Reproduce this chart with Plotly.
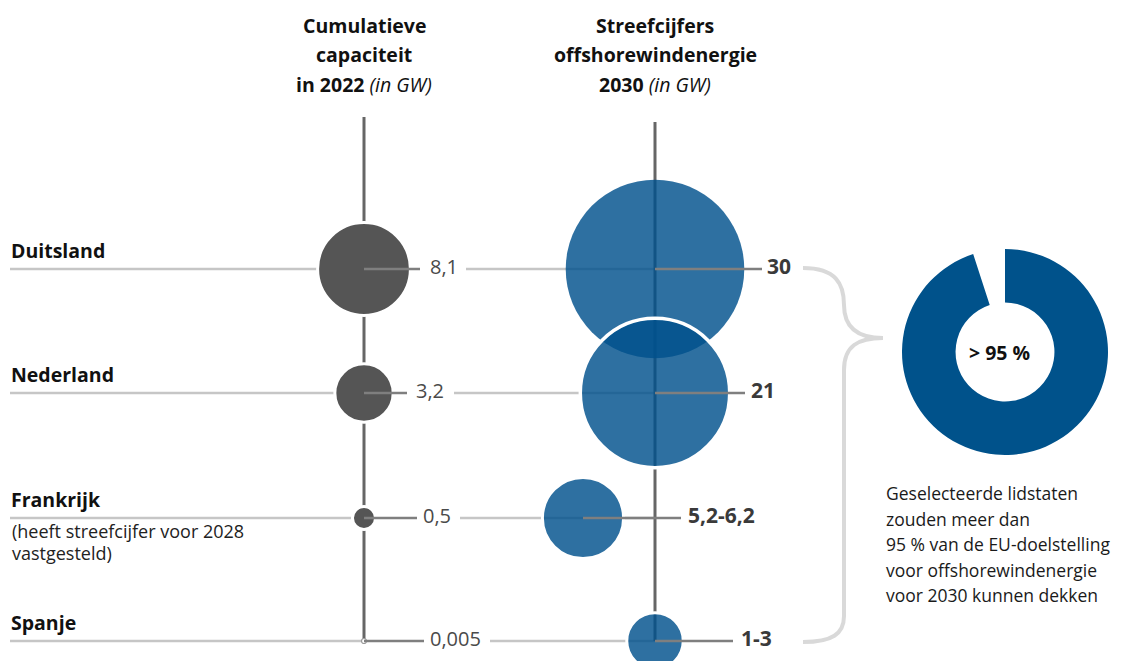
import plotly.graph_objects as go
import math

# ---------------- data ----------------
countries = ["Duitsland", "Nederland", "Frankrijk", "Spanje"]
country_notes = ["", "", "(heeft streefcijfer voor 2028<br>vastgesteld)", ""]
capacity_2022 = [8.1, 3.2, 0.5, 0.005]
capacity_labels = ["8,1", "3,2", "0,5", "0,005"]
target_low = [30, 21, 5.2, 1]
target_high = [30, 21, 6.2, 3]
target_labels = ["30", "21", "5,2-6,2", "1-3"]
donut_values = [95, 5]
donut_label = "> 95 %"
header_left = ["<b>Cumulatieve</b>", "<b>capaciteit</b>", "<b>in 2022</b> <i>(in GW)</i>"]
header_right = ["<b>Streefcijfers</b>", "<b>offshorewindenergie</b>", "<b>2030</b> <i>(in GW)</i>"]
note_lines = ["Geselecteerde lidstaten", "zouden meer dan", "95 % van de EU-doelstelling",
              "voor offshorewindenergie", "voor 2030 kunnen dekken"]

# ---------------- layout constants (pixels) ----------------
W, H = 1132, 661
FONT = "Open Sans"
COL_CAP = 364
COL_TGT = 655
ROW_Y = [269, 393, 518, 641]
TGT_CX = [655, 655, 583, 655]
PX_PER_SQRT = 32.6
CAP_LBL_X = [430, 416, 423, 430]
CAP_SEG_END = [420, 407, 417, 424]
CAP_LINE_START = [466, 454, 460, 490]
TGT_LBL_X = [767, 751, 688, 741]
TGT_SEG_START = [655, 655, 583, 655]
TGT_SEG_END = [762, 745, 681, 733]

LIGHT = "#c6c6c6"
DARK = "#7f7f7f"
VLINE = "#666666"
GREYDOT = "#555555"
BLUE_RGBA = "rgba(0,80,140,0.82)"
DONUT = "#00528b"

fig = go.Figure()


def seg(xs, ys, color, width=2.5):
    fig.add_trace(go.Scatter(x=xs, y=ys, mode="lines", line=dict(color=color, width=width),
                             hoverinfo="skip", showlegend=False))


# light grey row lines (behind everything)
for i in range(len(countries)):
    y = ROW_Y[i]
    seg([10, COL_CAP], [y, y], LIGHT)
    seg([CAP_LINE_START[i], COL_TGT], [y, y], LIGHT)

# vertical column lines
seg([COL_CAP, COL_CAP], [117, ROW_Y[-1]], VLINE, 3)
seg([COL_TGT, COL_TGT], [122, ROW_Y[-1]], VLINE, 3)

# target circles (translucent)
fig.add_trace(go.Scatter(
    x=TGT_CX, y=ROW_Y, mode="markers",
    marker=dict(size=[PX_PER_SQRT * math.sqrt(v) for v in target_high],
                color=BLUE_RGBA, opacity=1,
                line=dict(color="white", width=[0, 3.5, 3, 3])),
    hoverinfo="skip", showlegend=False))

# capacity circles
fig.add_trace(go.Scatter(
    x=[COL_CAP] * len(countries), y=ROW_Y, mode="markers",
    marker=dict(size=[max(PX_PER_SQRT * math.sqrt(v), 5) for v in capacity_2022],
                color=[GREYDOT, GREYDOT, GREYDOT, "white"], opacity=1,
                line=dict(color=["white", "white", "white", "#9a9a9a"], width=[3, 3, 3, 1.2])),
    hoverinfo="skip", showlegend=False))

# dark leader segments
for i in range(len(countries)):
    y = ROW_Y[i]
    seg([COL_CAP, CAP_SEG_END[i]], [y, y], DARK)
    seg([TGT_SEG_START[i], TGT_SEG_END[i]], [y, y], DARK)

# value labels
fig.add_trace(go.Scatter(
    x=CAP_LBL_X, y=ROW_Y, mode="text", text=capacity_labels, textposition="middle right",
    textfont=dict(family=FONT, size=20, color="#4a4a4a"), hoverinfo="skip", showlegend=False))
fig.add_trace(go.Scatter(
    x=TGT_LBL_X, y=ROW_Y, mode="text", text=["<b>%s</b>" % t for t in target_labels],
    textposition="middle right",
    textfont=dict(family=FONT, size=21, color="#3a3a3a"), hoverinfo="skip", showlegend=False))

# country labels
fig.add_trace(go.Scatter(
    x=[11] * len(countries), y=[y - 16 for y in ROW_Y], mode="text",
    text=["<b>%s</b>" % c for c in countries], textposition="middle right",
    textfont=dict(family=FONT, size=19.5, color="#111111"), hoverinfo="skip", showlegend=False))

annotations = []
# country notes
for i, n in enumerate(country_notes):
    if n:
        for j, part in enumerate(n.split("<br>")):
            annotations.append(dict(x=10, y=ROW_Y[i] + 13 + j * 22, text=part, xanchor="left",
                                    yanchor="middle", showarrow=False,
                                    font=dict(family=FONT, size=18, color="#222222")))

# headers
for j, t in enumerate(header_left):
    annotations.append(dict(x=COL_CAP, y=25 + j * 29.5, text=t, showarrow=False, xanchor="center",
                            yanchor="middle", font=dict(family=FONT, size=19.5, color="#111111")))
for j, t in enumerate(header_right):
    annotations.append(dict(x=COL_TGT, y=25 + j * 29.5, text=t, showarrow=False, xanchor="center",
                            yanchor="middle", font=dict(family=FONT, size=19.5, color="#111111")))

# right note
for j, t in enumerate(note_lines):
    annotations.append(dict(x=884, y=493 + j * 25.5, text=t, showarrow=False, xanchor="left",
                            yanchor="middle", font=dict(family=FONT, size=17.5, color="#1a1a1a")))

# donut center
annotations.append(dict(x=999, y=352, text="<b>%s</b>" % donut_label, showarrow=False,
                        xanchor="center", yanchor="middle",
                        font=dict(family=FONT, size=19.5, color="#111111")))

for a in annotations:
    a["xref"] = "x"
    a["yref"] = "y"

# donut
fig.add_trace(go.Pie(
    values=donut_values, sort=False, direction="clockwise", rotation=0, hole=0.48,
    marker=dict(colors=[DONUT, "rgba(0,0,0,0)"], line=dict(width=0)),
    textinfo="none", hoverinfo="skip", showlegend=False,
    domain=dict(x=[902 / W, 1108 / W], y=[1 - 455 / H, 1 - 249 / H])))

# brace
brace = ("M 803,268 C 836,268 844,284 844,305 C 844,328 858,338 883,338 "
         "C 858,338 844,346 844,370 L 844,616 C 844,634 832,642 803,642")

fig.update_layout(
    width=W, height=H, margin=dict(l=0, r=0, t=0, b=0),
    paper_bgcolor="white", plot_bgcolor="white",
    xaxis=dict(range=[0, W], visible=False, fixedrange=True),
    yaxis=dict(range=[H, 0], visible=False, fixedrange=True),
    annotations=annotations,
    shapes=[dict(type="path", path=brace, xref="x", yref="y",
                 line=dict(color="#d9d9d9", width=4), layer="below")],
    showlegend=False,
)

fig.write_html("out.html", config={"displayModeBar": False},
               post_script="document.body.style.margin='0';document.body.style.overflow='hidden';")
